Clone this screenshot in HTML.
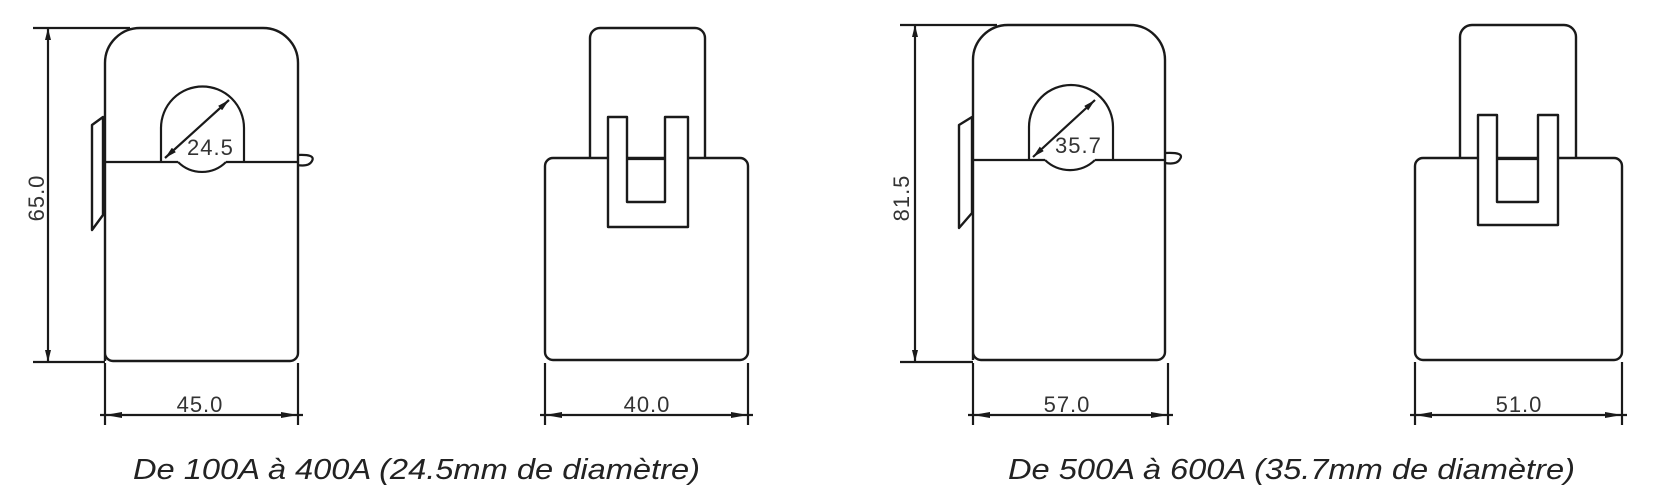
<!DOCTYPE html>
<html><head><meta charset="utf-8"><style>
html,body{margin:0;padding:0;background:#fff;}
svg{display:block;}
.s{fill:#fff;stroke:#1a1a1a;stroke-width:2.4;stroke-linejoin:round;}
.l{fill:none;stroke:#1a1a1a;stroke-width:2.2;}
.d{font-family:"Liberation Sans",Arial,sans-serif;font-size:22px;fill:#333;letter-spacing:1px;}
.cap{font-family:"Liberation Sans",sans-serif;font-style:italic;font-size:29px;fill:#222;}
</style></head><body>
<svg width="1655" height="496" viewBox="0 0 1655 496">
<defs>
<marker id="ar" viewBox="0 0 12 6" refX="12" refY="3" markerWidth="12" markerHeight="6" orient="auto-start-reverse" markerUnits="userSpaceOnUse"><path d="M0 0 L12 3 L0 6 Z" fill="#1a1a1a"/></marker>
</defs>

<!-- LEFT FRONT VIEW -->
<g>
<path class="s" d="M92 125 L103 117 L103 215 L92 230 Z"/>
<path class="l" d="M297 155 Q316 154 312 161 Q309 167 297 165"/>
<path class="s" d="M105 361 L105 63 A35 35 0 0 1 140 28 L263 28 A35 35 0 0 1 298 63 L298 353 A8 8 0 0 1 290 361 L113 361 A8 8 0 0 1 105 353"/>
<path class="l" d="M105 162 L178 162 M226 162 L298 162"/>
<path class="l" d="M161 162 L161 128 A41.5 41.5 0 0 1 244 128 L244 162"/>
<path class="l" d="M178 162 A34 34 0 0 0 226 162"/>
<line class="l" x1="165" y1="158" x2="229" y2="100" stroke-width="1.8" marker-start="url(#ar)" marker-end="url(#ar)"/>
<text class="d" x="187" y="155" font-size="20">24.5</text>
<line class="l" x1="33" y1="28" x2="130" y2="28"/>
<line class="l" x1="33" y1="362" x2="105" y2="362"/>
<line class="l" x1="48" y1="28" x2="48" y2="362" stroke-width="1.8" marker-start="url(#ar)" marker-end="url(#ar)"/>
<text class="d" transform="translate(44 198) rotate(-90)" text-anchor="middle">65.0</text>
<line class="l" x1="105" y1="363" x2="105" y2="425"/>
<line class="l" x1="298" y1="363" x2="298" y2="425"/>
<line class="l" x1="100" y1="415" x2="303" y2="415" stroke-width="1.8"/>
<path d="M105 415 L122 412 L122 418 Z M298 415 L281 412 L281 418 Z" fill="#1a1a1a"/>
<text class="d" x="200" y="412" text-anchor="middle">45.0</text>
</g>

<!-- LEFT SIDE VIEW -->
<g>
<rect class="s" x="590" y="28" width="115" height="160" rx="10"/>
<rect class="s" x="545" y="158" width="203" height="202" rx="8"/>
<path class="s" d="M608 117 L627 117 L627 202 L665 202 L665 117 L688 117 L688 227 L608 227 Z"/>
<line class="l" x1="627" y1="159" x2="665" y2="159"/>
<line class="l" x1="545" y1="363" x2="545" y2="425"/>
<line class="l" x1="748" y1="363" x2="748" y2="425"/>
<line class="l" x1="540" y1="415" x2="753" y2="415" stroke-width="1.8"/>
<path d="M545 415 L562 412 L562 418 Z M748 415 L731 412 L731 418 Z" fill="#1a1a1a"/>
<text class="d" x="647" y="412" text-anchor="middle">40.0</text>
</g>

<text class="cap" x="133" y="479" textLength="567" lengthAdjust="spacingAndGlyphs">De 100A à 400A (24.5mm de diamètre)</text>

<!-- RIGHT FRONT VIEW -->
<g>
<path class="s" d="M959 125 L972 117 L972 213 L959 228 Z"/>
<path class="l" d="M1165 153 Q1185 152 1180 159 Q1177 165 1165 163"/>
<path class="s" d="M973 360 L973 60 A35 35 0 0 1 1008 25 L1130 25 A35 35 0 0 1 1165 60 L1165 352 A8 8 0 0 1 1157 360 L981 360 A8 8 0 0 1 973 352"/>
<path class="l" d="M973 160 L1045 160 M1095 160 L1165 160"/>
<path class="l" d="M1029 160 L1029 127 A42 42 0 0 1 1113 127 L1113 160"/>
<path class="l" d="M1045 160 A36 36 0 0 0 1095 160"/>
<line class="l" x1="1033" y1="157" x2="1095" y2="100" stroke-width="1.8" marker-start="url(#ar)" marker-end="url(#ar)"/>
<text class="d" x="1055" y="153" font-size="20">35.7</text>
<line class="l" x1="900" y1="25" x2="997" y2="25"/>
<line class="l" x1="900" y1="362" x2="973" y2="362"/>
<line class="l" x1="915" y1="25" x2="915" y2="362" stroke-width="1.8" marker-start="url(#ar)" marker-end="url(#ar)"/>
<text class="d" transform="translate(909 198) rotate(-90)" text-anchor="middle">81.5</text>
<line class="l" x1="973" y1="363" x2="973" y2="425"/>
<line class="l" x1="1168" y1="363" x2="1168" y2="425"/>
<line class="l" x1="968" y1="415" x2="1173" y2="415" stroke-width="1.8"/>
<path d="M973 415 L990 412 L990 418 Z M1168 415 L1151 412 L1151 418 Z" fill="#1a1a1a"/>
<text class="d" x="1067" y="412" text-anchor="middle">57.0</text>
</g>

<!-- RIGHT SIDE VIEW -->
<g>
<rect class="s" x="1460" y="25" width="116" height="160" rx="12"/>
<rect class="s" x="1415" y="158" width="207" height="202" rx="8"/>
<path class="s" d="M1478 115 L1497 115 L1497 202 L1538 202 L1538 115 L1558 115 L1558 225 L1478 225 Z"/>
<line class="l" x1="1497" y1="159" x2="1538" y2="159"/>
<line class="l" x1="1415" y1="362" x2="1415" y2="425"/>
<line class="l" x1="1622" y1="362" x2="1622" y2="425"/>
<line class="l" x1="1410" y1="415" x2="1627" y2="415" stroke-width="1.8"/>
<path d="M1415 415 L1432 412 L1432 418 Z M1622 415 L1605 412 L1605 418 Z" fill="#1a1a1a"/>
<text class="d" x="1519" y="412" text-anchor="middle">51.0</text>
</g>

<text class="cap" x="1008" y="479" textLength="567" lengthAdjust="spacingAndGlyphs">De 500A à 600A (35.7mm de diamètre)</text>
</svg>
</body></html>
